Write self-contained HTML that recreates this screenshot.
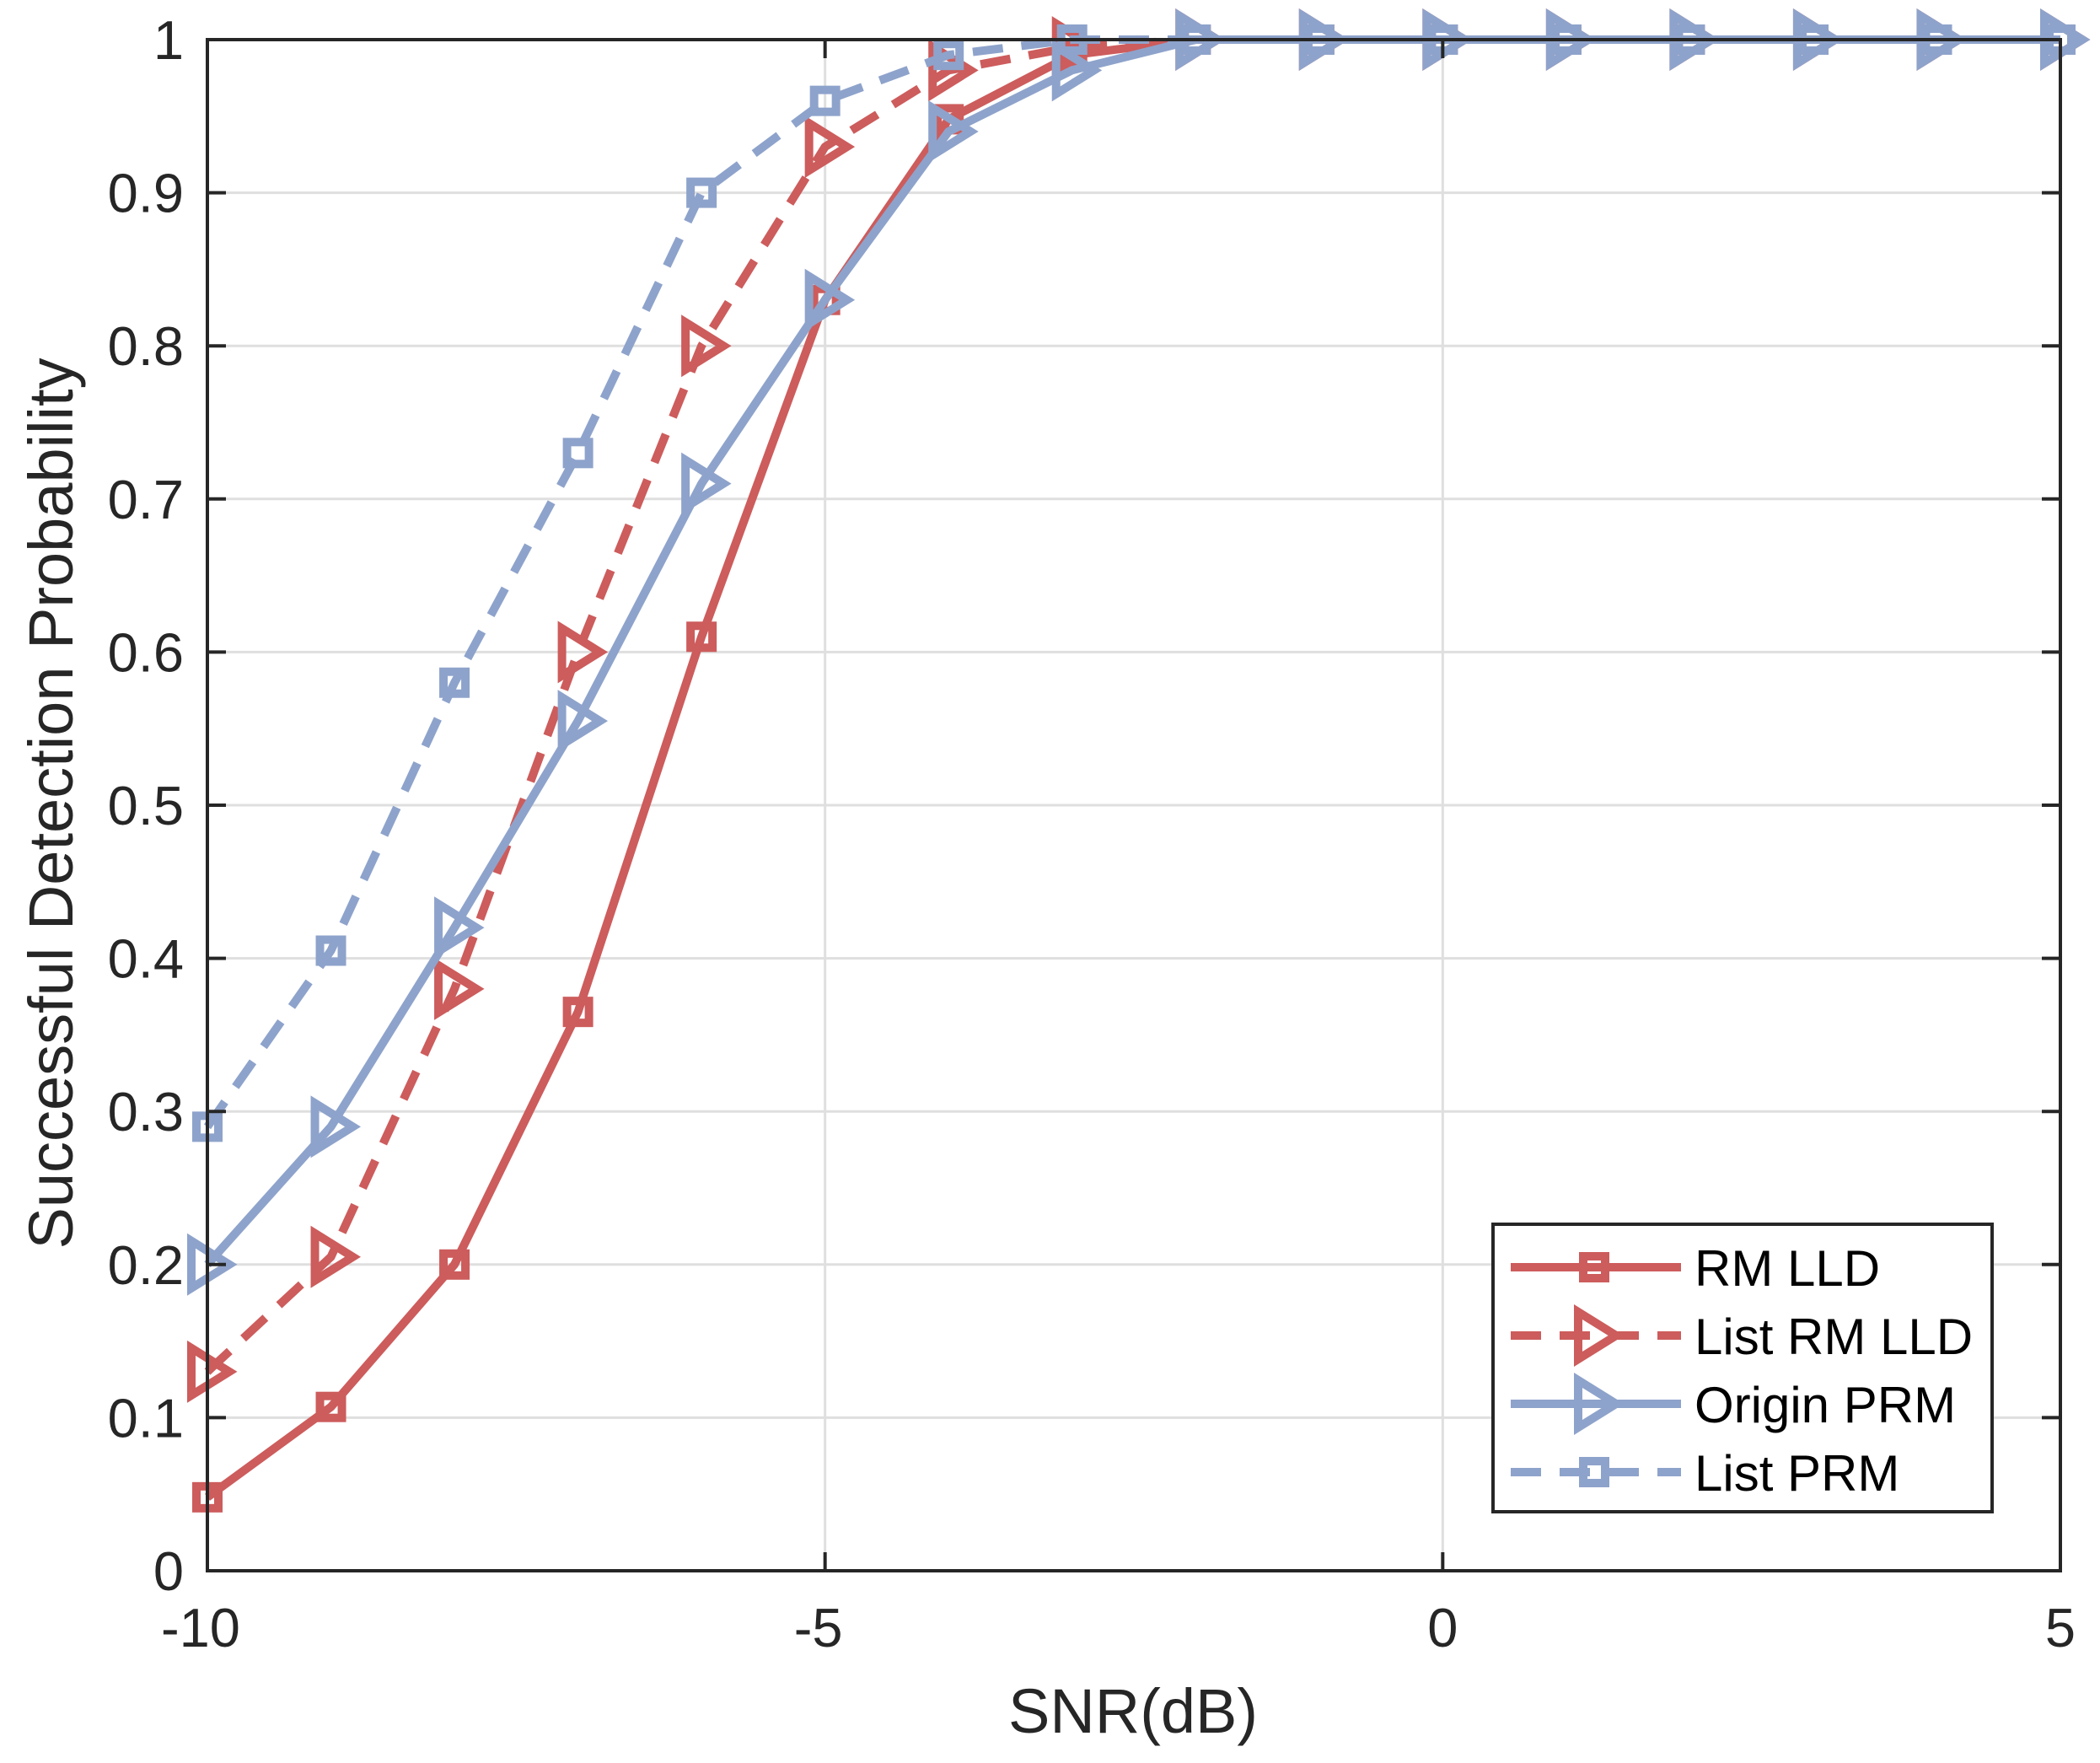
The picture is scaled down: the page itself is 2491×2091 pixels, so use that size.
<!DOCTYPE html>
<html><head><meta charset="utf-8"><style>
html,body{margin:0;padding:0;background:#fff;}
svg{display:block;font-family:"Liberation Sans",Arial,sans-serif;}
</style></head><body>
<svg id="chart" width="2491" height="2091" viewBox="0 0 2491 2091" xmlns="http://www.w3.org/2000/svg">
<rect x="0" y="0" width="2491" height="2091" fill="#fff"/>
<g id="grid"></g>
<g id="series"></g>
<g id="axes"></g>
<text x="1344" y="2055" font-size="74" text-anchor="middle" fill="#262626">SNR(dB)</text>
<text transform="translate(86,953) rotate(-90)" font-size="74" text-anchor="middle" fill="#262626">Successful Detection Probability</text>
<g id="legend"></g>
</svg>
<script>
const snr = [-10,-9,-8,-7,-6,-5,-4,-3,-2,-1,0,1,2,3,4,5];
const rmLLD = [0.048,0.107,0.2,0.365,0.61,0.83,0.948,0.99,1,1,1,1,1,1,1,1];
const listRmLLD = [0.13,0.205,0.38,0.6,0.8,0.93,0.98,0.995,1,1,1,1,1,1,1,1];
const originPRM = [0.2,0.29,0.42,0.555,0.71,0.83,0.94,0.98,1,1,1,1,1,1,1,1];
const listPRM = [0.29,0.405,0.58,0.73,0.9,0.96,0.99,1,1,1,1,1,1,1,1,1];
const xTicks = [-10,-5,0,5];
const yTicks = [0,0.1,0.2,0.3,0.4,0.5,0.6,0.7,0.8,0.9,1];
const yTickLabels = ["0","0.1","0.2","0.3","0.4","0.5","0.6","0.7","0.8","0.9","1"];
const legendLabels = ["RM LLD","List RM LLD","Origin PRM","List PRM"];

const L=246,R=2444,T=47,B=1863;
const xs=v=>L+(v+10)/15*(R-L);
const ys=v=>B-v*(B-T);
const NS="http://www.w3.org/2000/svg";
function mk(tag,parent){const e=document.createElementNS(NS,tag);parent.appendChild(e);return e;}
const grid=document.getElementById('grid'),axes=document.getElementById('axes'),ser=document.getElementById('series'),leg=document.getElementById('legend');

xTicks.forEach(t=>{
  const g=mk('line',grid);g.setAttribute('x1',xs(t));g.setAttribute('x2',xs(t));g.setAttribute('y1',T);g.setAttribute('y2',B);g.setAttribute('stroke','#dfdfdf');g.setAttribute('stroke-width','3');
  
  
  [[B,B-22],[T,T+22]].forEach(p=>{const k=mk('line',axes);k.setAttribute('x1',xs(t));k.setAttribute('x2',xs(t));k.setAttribute('y1',p[0]);k.setAttribute('y2',p[1]);k.setAttribute('stroke','#262626');k.setAttribute('stroke-width','4');
  
  });
  const tx=mk('text',axes);tx.textContent=String(t);tx.setAttribute('x',xs(t)-(t<0?8:0));tx.setAttribute('y',B+90);tx.setAttribute('font-size','65');tx.setAttribute('text-anchor','middle');tx.setAttribute('fill','#262626');
  
  
});
yTicks.forEach((t,i)=>{
  const g=mk('line',grid);g.setAttribute('x1',L);g.setAttribute('x2',R);g.setAttribute('y1',ys(t));g.setAttribute('y2',ys(t));g.setAttribute('stroke','#dfdfdf');g.setAttribute('stroke-width','3');
  
  
  [[L,L+22],[R,R-22]].forEach(p=>{const k=mk('line',axes);k.setAttribute('x1',p[0]);k.setAttribute('x2',p[1]);k.setAttribute('y1',ys(t));k.setAttribute('y2',ys(t));k.setAttribute('stroke','#262626');k.setAttribute('stroke-width','4');
  
  });
  const tx=mk('text',axes);tx.textContent=yTickLabels[i];tx.setAttribute('x',L-28);tx.setAttribute('y',ys(t)+23);tx.setAttribute('font-size','65');tx.setAttribute('text-anchor','end');tx.setAttribute('fill','#262626');
  
  
});
const frame=mk('rect',axes);frame.setAttribute('x',L);frame.setAttribute('y',T);frame.setAttribute('width',R-L);frame.setAttribute('height',B-T);frame.setAttribute('fill','none');frame.setAttribute('stroke','#262626');frame.setAttribute('stroke-width','4');



const RED='#cd5c5c',BLUE='#8ea3cb';
function marker(parent,type,cx,cy,color){
  let m;
  if(type==='sq'){m=mk('rect',parent);m.setAttribute('x',cx-13);m.setAttribute('y',cy-13);m.setAttribute('width',26);m.setAttribute('height',26);}
  else{m=mk('polygon',parent);m.setAttribute('points',`${cx-19},${cy-28} ${cx+26},${cy} ${cx-19},${cy+28}`);}
  m.setAttribute('fill','none');m.setAttribute('stroke',color);m.setAttribute('stroke-width','10');
  return m;
}
const seriesDefs=[
 {d:rmLLD,c:RED,dash:false,m:'sq',n:'rm-lld'},
 {d:listRmLLD,c:RED,dash:true,m:'tri',n:'list-rm-lld'},
 {d:originPRM,c:BLUE,dash:false,m:'tri',n:'origin-prm'},
 {d:listPRM,c:BLUE,dash:true,m:'sq',n:'list-prm'}
];
seriesDefs.forEach((s,si)=>{
  const g=mk('g',ser);
  
  
  const p=mk('polyline',g);p.setAttribute('points',s.d.map((v,i)=>xs(snr[i])+','+ys(v)).join(' '));
  p.setAttribute('fill','none');p.setAttribute('stroke',s.c);p.setAttribute('stroke-width','10');p.setAttribute('stroke-linejoin','round');
  if(s.dash)p.setAttribute('stroke-dasharray','36 22');
  
  
  s.d.forEach((v,i)=>{const m=marker(g,s.m,xs(snr[i]),ys(v),s.c);
    
    });
  const ly=1503+si*81;
  const ll=mk('line',leg);ll.setAttribute('x1',1792);ll.setAttribute('x2',1994);ll.setAttribute('y1',ly);ll.setAttribute('y2',ly);ll.setAttribute('stroke',s.c);ll.setAttribute('stroke-width','10');
  if(s.dash)ll.setAttribute('stroke-dasharray','36 22');
  
  
  const lm=marker(leg,s.m,1891,ly,s.c);
  
  
  const lt=mk('text',leg);lt.textContent=legendLabels[si];lt.setAttribute('x',2010);lt.setAttribute('y',ly+22);lt.setAttribute('font-size','60');lt.setAttribute('fill','#000');
  
  
});
const lb=document.createElementNS(NS,'rect');leg.insertBefore(lb,leg.firstChild);
lb.setAttribute('x',1771);lb.setAttribute('y',1452);lb.setAttribute('width',592);lb.setAttribute('height',341);lb.setAttribute('fill','#fff');lb.setAttribute('stroke','#262626');lb.setAttribute('stroke-width','4');


</script>
</body></html>
